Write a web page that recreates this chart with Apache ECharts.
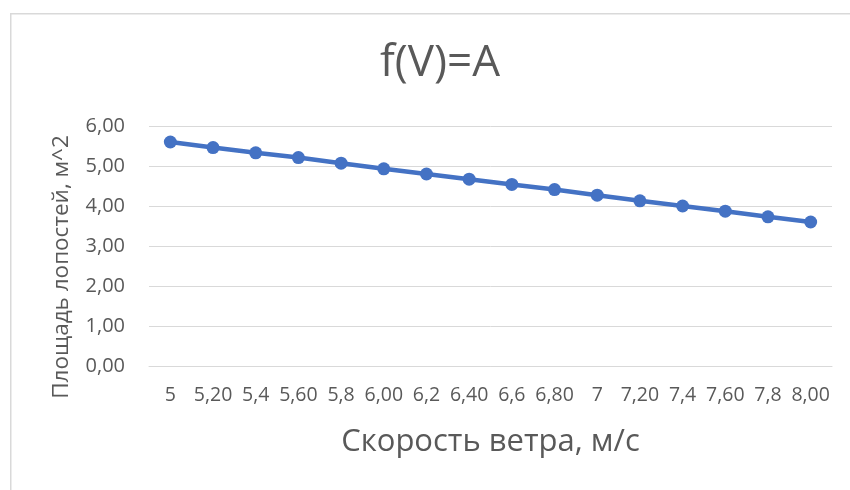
<!DOCTYPE html>
<html>
<head>
<meta charset="utf-8">
<script src="https://cdn.jsdelivr.net/npm/echarts@6/dist/echarts.min.js"></script>
<style>html,body{margin:0;padding:0;background:#fff}#c{width:850px;height:490px}</style>
</head>
<body>
<div id="c"></div>
<script>
var categories = ['5','5,20','5,4','5,60','5,8','6,00','6,2','6,40','6,6','6,80','7','7,20','7,4','7,60','7,8','8,00'];
var areaValues = [5.60,5.46,5.33,5.21,5.07,4.93,4.80,4.67,4.54,4.41,4.27,4.13,4.00,3.87,3.73,3.60];
var titleText = 'f(V)=A';
var xName = 'Скорость ветра, м/с';
var yName = 'Площадь лопостей, м^2';

var FONT = '"Open Sans", "DejaVu Sans", sans-serif';
var chart = echarts.init(document.getElementById('c'), null, {renderer: 'canvas'});
chart.setOption({
  backgroundColor: '#ffffff',
  animation: false,
  graphic: [{
    type: 'rect', left: 10, top: 13, z: -10,
    shape: {width: 900, height: 500},
    style: {fill: '#ffffff', stroke: '#d9d9d9', lineWidth: 1.5}
  }, {
    type: 'text', x: 62, y: 267, rotation: Math.PI / 2,
    style: {text: yName, fontFamily: FONT, fontSize: 22.5, fill: '#595959',
      textAlign: 'center', textVerticalAlign: 'middle'}
  }],
  title: {
    text: titleText, left: 435, top: 36, textAlign: 'center',
    textStyle: {fontFamily: FONT, fontSize: 44, fontWeight: 'normal', color: '#595959'}
  },
  grid: {left: 149, right: 18, top: 126, bottom: 124},
  xAxis: {
    type: 'category', data: categories, boundaryGap: true,
    name: xName, nameLocation: 'middle', nameGap: 61,
    nameTextStyle: {fontFamily: FONT, fontSize: 31, color: '#595959'},
    axisLine: {lineStyle: {color: '#d9d9d9', width: 1}},
    axisTick: {show: false},
    axisLabel: {interval: 0, margin: 19, fontFamily: FONT, fontSize: 19.5, color: '#595959'}
  },
  yAxis: {
    type: 'value', min: 0, max: 6, interval: 1,
    axisLine: {show: false}, axisTick: {show: false},
    splitLine: {lineStyle: {color: '#d9d9d9', width: 1}},
    axisLabel: {margin: 24, fontFamily: FONT, fontSize: 20, color: '#595959',
      formatter: function (v) { return v.toFixed(2).replace('.', ','); }}
  },
  series: [{
    type: 'line', data: areaValues,
    symbol: 'circle', symbolSize: 13,
    lineStyle: {color: '#4472C4', width: 4.5},
    itemStyle: {color: '#4472C4'}
  }]
});
</script>
</body>
</html>
